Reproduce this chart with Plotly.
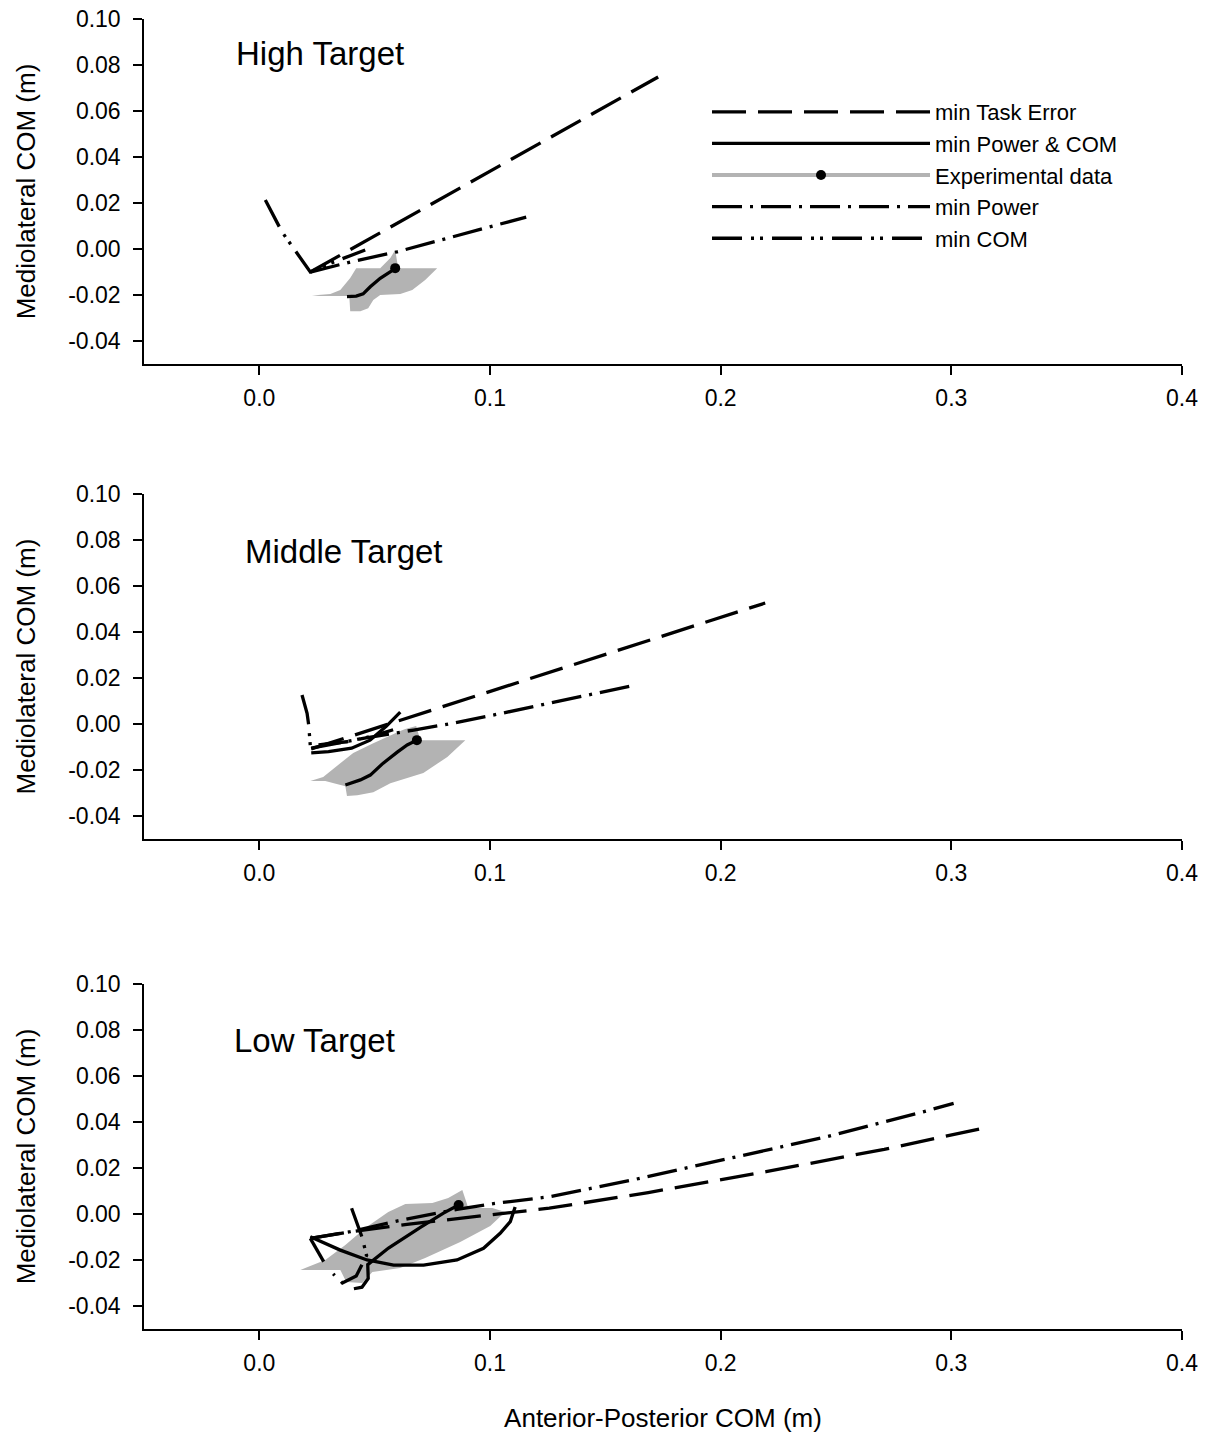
import plotly.graph_objects as go

# ---------------- data ----------------
x_tick_vals = [0.0, 0.1, 0.2, 0.3, 0.4]
x_tick_text = ["0.0", "0.1", "0.2", "0.3", "0.4"]
y_tick_vals = [-0.04, -0.02, 0.00, 0.02, 0.04, 0.06, 0.08, 0.10]
y_tick_text = ["-0.04", "-0.02", "0.00", "0.02", "0.04", "0.06", "0.08", "0.10"]
panel_titles = ["High Target", "Middle Target", "Low Target"]
series_names = ["min Task Error", "min Power & COM", "Experimental data", "min Power", "min COM"]

# High target
high_task_x = [0.0221, 0.0975, 0.1729]
high_task_y = [-0.0100, 0.0324, 0.0748]
high_pc_x = [0.0380, 0.0420, 0.0450, 0.0481, 0.0524, 0.0553, 0.0589]
high_pc_y = [-0.0207, -0.0205, -0.0195, -0.0164, -0.0127, -0.0110, -0.0085]
high_exp_x = [0.0589]
high_exp_y = [-0.0083]
high_band_x = [0.0228, 0.0308, 0.0351, 0.0394, 0.0420, 0.0524, 0.0568, 0.0589, 0.0602, 0.0771,
               0.0719, 0.0663, 0.0611, 0.0524, 0.0494, 0.0472, 0.0438, 0.0394, 0.0390, 0.0264]
high_band_y = [-0.0202, -0.0196, -0.0178, -0.0126, -0.0083, -0.0083, -0.0039, -0.0004, -0.0083, -0.0083,
               -0.0135, -0.0178, -0.0196, -0.0200, -0.0222, -0.0257, -0.0270, -0.0270, -0.0204, -0.0204]
high_power_x = [0.0221, 0.0400, 0.0597, 0.0763, 0.0980, 0.1157]
high_power_y = [-0.0100, -0.0055, -0.0012, 0.0032, 0.0090, 0.0139]
high_com_x = [0.0026, 0.0098, 0.0221, 0.0308, 0.0459]
high_com_y = [0.0213, 0.0075, -0.0100, -0.0062, -0.0004]

# Middle target
mid_task_x = [0.0225, 0.1209, 0.2193]
mid_task_y = [-0.0108, 0.0209, 0.0526]
mid_pc_x = [0.0373, 0.0438, 0.0481, 0.0537, 0.0598, 0.0641, 0.0683,
            None, 0.0225, 0.0300, 0.0400, 0.0480, 0.0550, 0.0611]
mid_pc_y = [-0.0265, -0.0243, -0.0222, -0.0170, -0.0122, -0.0091, -0.0070,
            None, -0.0125, -0.0120, -0.0105, -0.0070, -0.0010, 0.0052]
mid_exp_x = [0.0683]
mid_exp_y = [-0.0070]
mid_band_x = [0.0199, 0.0286, 0.0373, 0.0380, 0.0425, 0.0494, 0.0568, 0.0711, 0.0815, 0.0893,
              0.0698, 0.0680, 0.0633, 0.0611, 0.0494, 0.0407, 0.0351, 0.0277, 0.0221]
mid_band_y = [-0.0248, -0.0248, -0.0270, -0.0313, -0.0309, -0.0296, -0.0257, -0.0213, -0.0143, -0.0070,
              -0.0070, -0.0009, -0.0022, -0.0030, -0.0083, -0.0126, -0.0170, -0.0230, -0.0248]
mid_power_x = [0.0225, 0.0450, 0.0669, 0.0841, 0.1014, 0.1608]
mid_power_y = [-0.0105, -0.0062, -0.0026, 0.0004, 0.0039, 0.0165]
mid_com_x = [0.0185, 0.0207, 0.0214, 0.0221, 0.0300, 0.0380, 0.0500, 0.0580]
mid_com_y = [0.0126, 0.0047, -0.0004, -0.0095, -0.0085, -0.0077, -0.0050, -0.0025]

# Low target
low_task_x = [0.0221, 0.0394, 0.0640, 0.0914, 0.1257, 0.1686, 0.2197, 0.2709, 0.3138]
low_task_y = [-0.0106, -0.0078, -0.0045, -0.0015, 0.0025, 0.0093, 0.0184, 0.0281, 0.0373]
low_pc_x = [0.0221, 0.0351, 0.0467, 0.0582, 0.0712, 0.0857, 0.0972, 0.1044, 0.1088, 0.1109,
            None, 0.0864, 0.0800, 0.0700, 0.0560, 0.0470, 0.0472, 0.0445, 0.0410,
            None, 0.0221, 0.0279]
low_pc_y = [-0.0099, -0.0157, -0.0200, -0.0222, -0.0222, -0.0200, -0.0149, -0.0084, -0.0033, 0.0030,
            None, 0.0039, 0.0005, -0.0057, -0.0148, -0.0220, -0.0280, -0.0318, -0.0325,
            None, -0.0106, -0.0207]
low_exp_x = [0.0864]
low_exp_y = [0.0039]
low_band_x = [0.0178, 0.0351, 0.0377, 0.0446, 0.0490, 0.0611, 0.0719, 0.0871, 0.1001, 0.1066,
              0.1010, 0.0906, 0.0880, 0.0819, 0.0750, 0.0633, 0.0559, 0.0459, 0.0373, 0.0286, 0.0199]
low_band_y = [-0.0243, -0.0243, -0.0296, -0.0300, -0.0252, -0.0235, -0.0191, -0.0122, -0.0052, 0.0009,
              0.0026, 0.0026, 0.0104, 0.0070, 0.0048, 0.0043, 0.0009, -0.0061, -0.0135, -0.0200, -0.0235]
low_power_x = [0.0221, 0.0394, 0.0600, 0.0857, 0.1015, 0.1257, 0.1618, 0.2039, 0.2461, 0.2882, 0.3010]
low_power_y = [-0.0106, -0.0077, -0.0030, 0.0020, 0.0045, 0.0075, 0.0148, 0.0242, 0.0336, 0.0445, 0.0481]
low_com_x = [0.0400, 0.0445, 0.0465, 0.0420, 0.0360, 0.0320]
low_com_y = [0.0025, -0.0100, -0.0180, -0.0270, -0.0300, -0.0260]

panels = [
    dict(task=(high_task_x, high_task_y), pc=(high_pc_x, high_pc_y), exp=(high_exp_x, high_exp_y),
         band=(high_band_x, high_band_y), power=(high_power_x, high_power_y), com=(high_com_x, high_com_y)),
    dict(task=(mid_task_x, mid_task_y), pc=(mid_pc_x, mid_pc_y), exp=(mid_exp_x, mid_exp_y),
         band=(mid_band_x, mid_band_y), power=(mid_power_x, mid_power_y), com=(mid_com_x, mid_com_y)),
    dict(task=(low_task_x, low_task_y), pc=(low_pc_x, low_pc_y), exp=(low_exp_x, low_exp_y),
         band=(low_band_x, low_band_y), power=(low_power_x, low_power_y), com=(low_com_x, low_com_y)),
]

# ---------------- styles ----------------
FONT = "Liberation Sans, Arial, sans-serif"
GRAY = "#b3b3b3"
LW = 3.3
dash_task = "34px,12px"
dash_power = "30px,8px,3px,8px"
dash_com = "30px,9px,3px,6px,3px,9px"

fig = go.Figure()
domains = [[0.7366, 1.0], [0.3740, 0.6374], [0.0, 0.2634]]

for i, p in enumerate(panels):
    xa = "x" if i == 0 else f"x{i+1}"
    ya = "y" if i == 0 else f"y{i+1}"
    leg = (i == 0)
    bx, by = p["band"]
    fig.add_trace(go.Scatter(x=bx, y=by, xaxis=xa, yaxis=ya, fill="toself", fillcolor=GRAY,
                             mode="lines", line=dict(width=0, color=GRAY), showlegend=False,
                             hoverinfo="skip"))
    fig.add_trace(go.Scatter(x=p["task"][0], y=p["task"][1], xaxis=xa, yaxis=ya, mode="lines",
                             name=series_names[0], legendgroup="task", showlegend=leg,
                             line=dict(color="black", width=LW, dash=dash_task)))
    fig.add_trace(go.Scatter(x=p["pc"][0], y=p["pc"][1], xaxis=xa, yaxis=ya, mode="lines",
                             name=series_names[1], legendgroup="pc", showlegend=leg,
                             line=dict(color="black", width=LW)))
    fig.add_trace(go.Scatter(x=p["exp"][0], y=p["exp"][1], xaxis=xa, yaxis=ya, mode="lines+markers",
                             name=series_names[2], legendgroup="exp", showlegend=leg,
                             line=dict(color=GRAY, width=4),
                             marker=dict(color="black", size=10)))
    fig.add_trace(go.Scatter(x=p["power"][0], y=p["power"][1], xaxis=xa, yaxis=ya, mode="lines",
                             name=series_names[3], legendgroup="power", showlegend=leg,
                             line=dict(color="black", width=LW, dash=dash_power)))
    fig.add_trace(go.Scatter(x=p["com"][0], y=p["com"][1], xaxis=xa, yaxis=ya, mode="lines",
                             name=series_names[4], legendgroup="com", showlegend=leg,
                             line=dict(color="black", width=LW, dash=dash_com)))

axis_common = dict(showline=True, linecolor="black", linewidth=1.5, ticks="outside", ticklen=9,
                   tickwidth=1.5, tickcolor="black", showgrid=False, zeroline=False,
                   automargin=False,
                   tickfont=dict(family=FONT, size=23, color="black"))
layout = {}
for i in range(3):
    xk = "xaxis" if i == 0 else f"xaxis{i+1}"
    yk = "yaxis" if i == 0 else f"yaxis{i+1}"
    ya = "y" if i == 0 else f"y{i+1}"
    xa = "x" if i == 0 else f"x{i+1}"
    layout[xk] = dict(axis_common, range=[-0.05, 0.4], tickvals=x_tick_vals, ticktext=x_tick_text,
                      anchor=ya, domain=[0, 1], ticklabelstandoff=4)
    layout[yk] = dict(axis_common, range=[-0.05, 0.10], tickvals=y_tick_vals, ticktext=y_tick_text,
                      anchor=xa, domain=domains[i], ticklabelstandoff=8,
                      title=dict(text="Mediolateral COM (m)", font=dict(family=FONT, size=26),
                                 standoff=25))
layout["xaxis3"]["title"] = dict(text="Anterior-Posterior COM (m)", font=dict(family=FONT, size=26),
                                 standoff=33)

title_x = [-0.011, -0.007, -0.012]
title_y = [0.0852, 0.0752, 0.0752]
annotations = []
for i, t in enumerate(panel_titles):
    xa = "x" if i == 0 else f"x{i+1}"
    ya = "y" if i == 0 else f"y{i+1}"
    annotations.append(dict(text=t, x=title_x[i], y=title_y[i], xref=xa, yref=ya,
                            xanchor="left", yanchor="middle", showarrow=False,
                            font=dict(family=FONT, size=33, color="black")))

fig.update_layout(
    width=1207, height=1437,
    margin=dict(l=144, r=25, t=19, b=108, autoexpand=False),
    plot_bgcolor="white", paper_bgcolor="white",
    font=dict(family=FONT, color="black"),
    annotations=annotations,
    legend=dict(x=0.5424, y=0.945, xanchor="left", yanchor="top", bgcolor="rgba(0,0,0,0)",
                font=dict(family=FONT, size=22, color="black"), itemwidth=218,
                traceorder="normal"),
    **layout,
)

fig.write_html("out.html", config={"displayModeBar": False},
               post_script="document.body.style.margin='0';document.body.style.overflow='hidden';")
